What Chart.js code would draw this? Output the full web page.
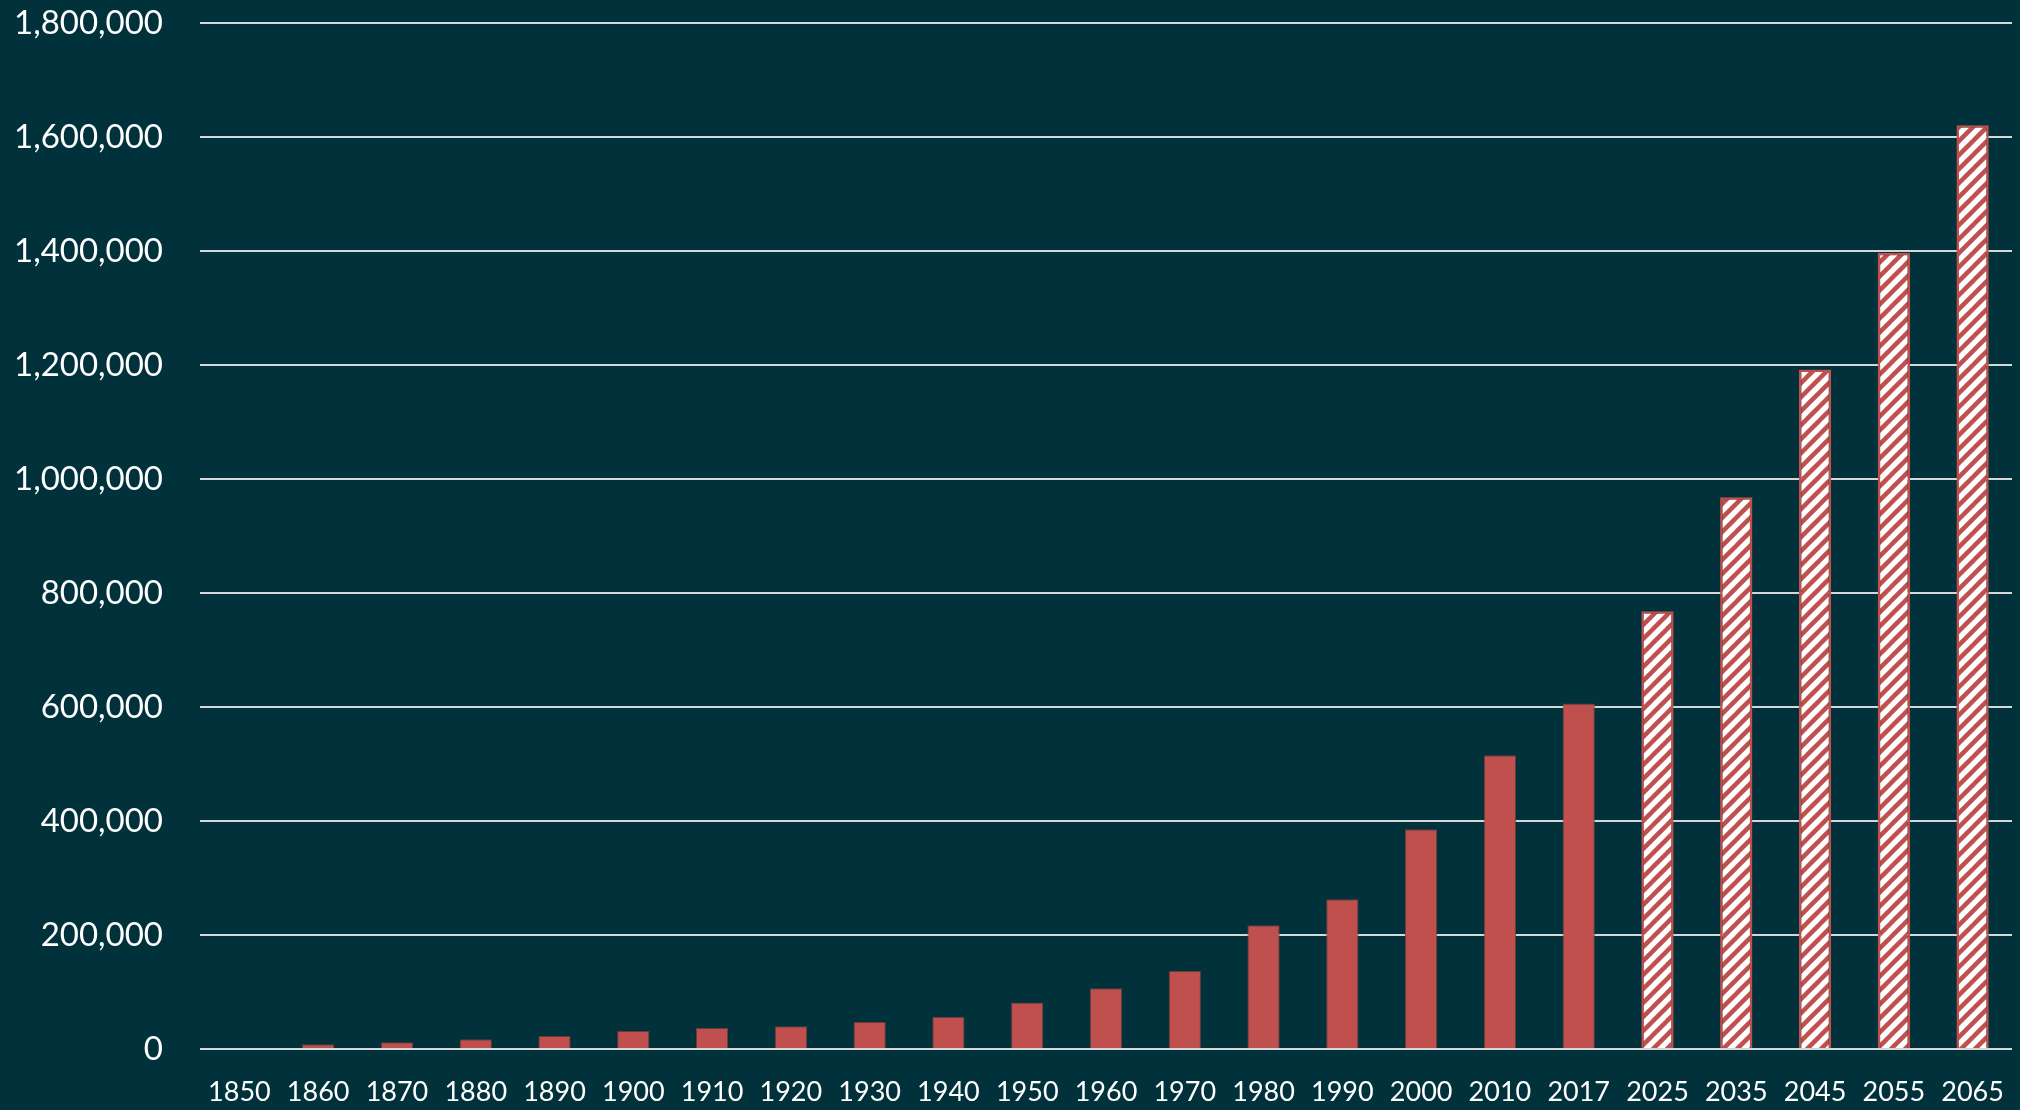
<!DOCTYPE html>
<html>
<head>
<meta charset="utf-8">
<script src="https://cdn.jsdelivr.net/npm/chart.js@4.4.1/dist/chart.umd.min.js"></script>
<style>
  html, body { margin: 0; padding: 0; background: #01313a; }
  canvas { display: block; }
</style>
</head>
<body>
<canvas id="canvas" width="2020" height="1110"></canvas>
<script>
// Years on the x axis
var years = ["1850", "1860", "1870", "1880", "1890", "1900", "1910", "1920", "1930", "1940",
  "1950", "1960", "1970", "1980", "1990", "2000", "2010", "2017",
  "2025", "2035", "2045", "2055", "2065"];

// Values (last five are projections, drawn hatched)
var values = [2000, 8200, 11700, 17000, 22800, 31600, 36900, 40000, 47500, 56500,
  81400, 106500, 136900, 217000, 262700, 385500, 515400, 606100,
  768100, 968100, 1192200, 1396800, 1620400];
var projected = [false, false, false, false, false, false, false, false, false, false,
  false, false, false, false, false, false, false, false,
  true, true, true, true, true];

// Y axis tick values
var yTicks = [0, 200000, 400000, 600000, 800000, 1000000, 1200000, 1400000, 1600000, 1800000];

var RED = "#c0504d";

function makeHatch(ctx) {
  var s = 14;
  var tile = document.createElement("canvas");
  tile.width = s;
  tile.height = s;
  var t = tile.getContext("2d");
  t.fillStyle = "#ffffff";
  t.fillRect(0, 0, s, s);
  t.strokeStyle = RED;
  t.lineWidth = 4.5;
  t.lineCap = "square";
  for (var k = 0; k < 3; k++) {   // "/" stripes, extra ones cover the corners
    t.beginPath();
    t.moveTo(k * s - s, s);
    t.lineTo(k * s, 0);
    t.stroke();
  }
  return ctx.createPattern(tile, "repeat");
}

// drop the extra room Chart.js keeps for overhanging labels, layout padding decides it
function noOverhang(scale) {
  scale.paddingTop = 0;
  scale.paddingBottom = 0;
  scale.paddingLeft = 0;
  scale.paddingRight = 0;
}

var canvas = document.getElementById("canvas");
var ctx = canvas.getContext("2d");
var hatch = makeHatch(ctx);

var fills = [], borders = [], borderWidths = [];
for (var i = 0; i < values.length; i++) {
  if (projected[i]) {
    fills.push(hatch);
    borders.push(RED);
    borderWidths.push(2.5);
  } else {
    fills.push(RED);
    borders.push("rgba(120,60,60,0.9)");
    borderWidths.push(1);
  }
}

new Chart(ctx, {
  type: "bar",
  data: {
    labels: years,
    datasets: [{
      data: values,
      backgroundColor: fills,
      borderColor: borders,
      borderWidth: borderWidths,
      categoryPercentage: 1.0,
      barPercentage: 0.41
    }]
  },
  options: {
    responsive: false,
    animation: false,
    devicePixelRatio: 1,
    layout: { padding: { top: 23, right: 8, left: 0, bottom: 0 } },
    plugins: { legend: { display: false }, tooltip: { enabled: false } },
    scales: {
      x: {
        grid: { display: false, drawTicks: false },
        border: { display: false },
        ticks: {
          color: "#ffffff",
          font: { family: "Lato", size: 27 },
          padding: 27,
          maxRotation: 0,
          autoSkip: false
        },
        afterFit: function (scale) { scale.height = 61; noOverhang(scale); }
      },
      y: {
        min: 0,
        max: 1800000,
        grid: { color: "#d4d8d9", lineWidth: 2, drawTicks: false },
        border: { display: false },
        afterBuildTicks: function (scale) {
          scale.ticks = yTicks.map(function (v) { return { value: v }; });
        },
        ticks: {
          color: "#ffffff",
          font: { family: "Lato", size: 33 },
          padding: 37,
          callback: function (v) { return v.toLocaleString("en-US"); }
        },
        afterFit: function (scale) { scale.width = 200; noOverhang(scale); }
      }
    }
  }
});
</script>
</body>
</html>
